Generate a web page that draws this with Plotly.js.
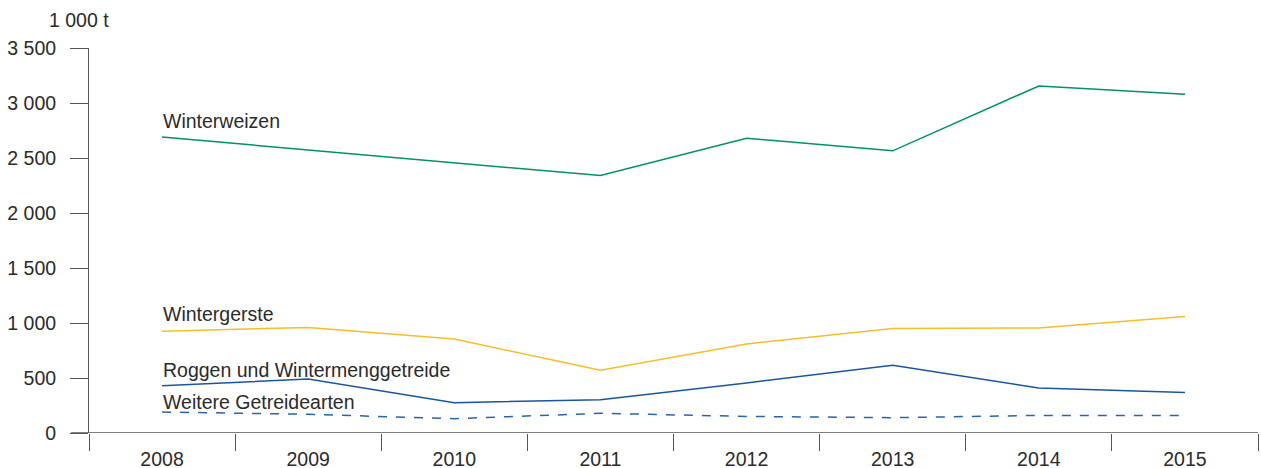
<!DOCTYPE html>
<html>
<head>
<meta charset="utf-8">
<script src="https://cdn.plot.ly/plotly-3.0.1.min.js"></script>
<style>html,body{margin:0;padding:0;background:#fff;}#chart{width:1261px;height:468px;}</style>
</head>
<body>
<div id="chart"></div>
<script>
const years = ['2008','2009','2010','2011','2012','2013','2014','2015'];
const winterweizen = [2690, 2575, 2455, 2340, 2680, 2565, 3155, 3080];
const wintergerste = [925, 960, 855, 570, 810, 950, 955, 1060];
const roggen = [430, 490, 276, 303, 455, 615, 409, 369];
const weitere = [191, 170, 130, 179, 151, 139, 160, 160];
const seriesNames = ['Winterweizen', 'Wintergerste', 'Roggen und Wintermenggetreide', 'Weitere Getreidearten'];
const yTicks = [0, 500, 1000, 1500, 2000, 2500, 3000, 3500];
const yTickText = ['0', '500', '1 000', '1 500', '2 000', '2 500', '3 000', '3 500'];
const unitLabel = '1 000 t';

const FONT = 'Liberation Sans, Arial, sans-serif';
const TXT = '#2b2b2b';
const FS = 19.5;

const traces = [
  {x: years, y: winterweizen, name: seriesNames[0], mode: 'lines', line: {color: '#00916a', width: 1.5}},
  {x: years, y: wintergerste, name: seriesNames[1], mode: 'lines', line: {color: '#f7bd2a', width: 1.5}},
  {x: years, y: roggen, name: seriesNames[2], mode: 'lines', line: {color: '#1a56a0', width: 1.5}},
  {x: years, y: weitere, name: seriesNames[3], mode: 'lines', line: {color: '#2a64ab', width: 1.5, dash: 'dash'}}
];

const labelY = [2840, 1085, 576, 285];
const annotations = seriesNames.map((n, i) => ({
  x: 0, y: labelY[i], xref: 'x', yref: 'y', text: n, showarrow: false,
  xanchor: 'left', yanchor: 'middle', xshift: -1,
  font: {family: FONT, size: FS, color: TXT}
}));
annotations.push({
  x: 0, y: 1, xref: 'paper', yref: 'paper', text: unitLabel, showarrow: false,
  xanchor: 'left', yanchor: 'middle', xshift: 47 - 89, yshift: 48 - 20,
  font: {family: FONT, size: FS, color: TXT}
});

const layout = {
  width: 1261, height: 468,
  margin: {l: 89, r: 3, t: 48, b: 35},
  paper_bgcolor: '#ffffff', plot_bgcolor: '#ffffff',
  showlegend: false,
  font: {family: FONT, size: FS, color: TXT},
  xaxis: {
    type: 'category', range: [-0.5, 7.5], tickson: 'boundaries',
    ticks: 'outside', ticklen: 17, tickcolor: '#555555', tickwidth: 1,
    ticklabelstandoff: 12,
    showline: false, showgrid: false, zeroline: false,
    tickfont: {family: FONT, size: FS, color: TXT}
  },
  yaxis: {
    range: [0, 3500], tickvals: yTicks, ticktext: yTickText,
    ticks: 'outside', ticklen: 18, tickcolor: '#555555', tickwidth: 1,
    ticklabelstandoff: 10,
    showline: true, linecolor: '#555555', linewidth: 1,
    showgrid: false, zeroline: false,
    tickfont: {family: FONT, size: FS, color: TXT}
  },
  shapes: [
    {type: 'line', xref: 'paper', yref: 'y', x0: -18/1169, x1: 1, y0: 0, y1: 0,
     line: {color: '#555555', width: 1.3}}
  ],
  annotations: annotations
};

Plotly.newPlot('chart', traces, layout, {displayModeBar: false, staticPlot: true});
</script>
</body>
</html>
